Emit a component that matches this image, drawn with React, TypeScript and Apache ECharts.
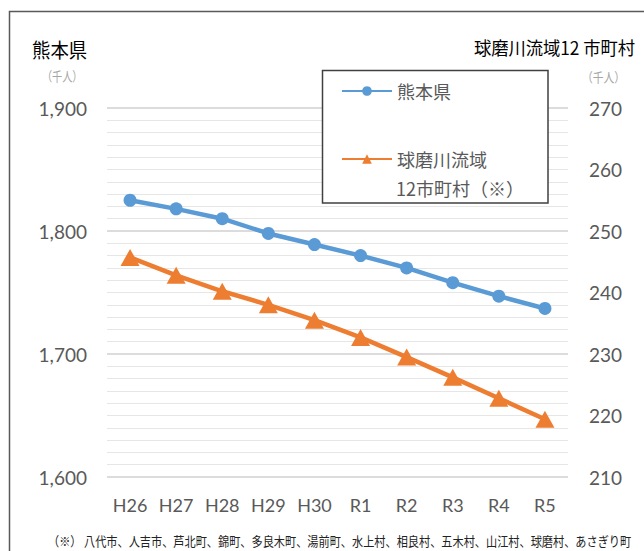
import React, { useEffect, useRef } from "react";
import * as echarts from "echarts";

const categories = ["H26", "H27", "H28", "H29", "H30", "R1", "R2", "R3", "R4", "R5"];
const kumamoto = [1825, 1818, 1810, 1798, 1789, 1780, 1770, 1758, 1747, 1737];
const kumagawa = [245.7, 242.8, 240.2, 238.0, 235.5, 232.7, 229.5, 226.2, 222.8, 219.4];
const nameKumamoto = "熊本県";
const nameKumagawa = "球磨川流域";
const nameKumagawa2 = "12市町村（※）";
const leftTitle = "熊本県";
const rightTitle = "球磨川流域12 市町村";
const unitText = "（千人）";
const footnote = "（※） 八代市、人吉市、芦北町、錦町、多良木町、湯前町、水上村、相良村、五木村、山江村、球磨村、あさぎり町";

const CJK = '"Noto Sans CJK JP", "Noto Sans", sans-serif';
const NUM = 'Lato, "Noto Sans", sans-serif';
const GRAY = "#595959";

export default function App() {
  const ref = useRef<HTMLDivElement>(null);
  useEffect(() => {
    if (!ref.current) return;
    const chart = echarts.init(ref.current, null, { renderer: "svg" });
    chart.setOption({
      animation: false,
      backgroundColor: "#ffffff",
      grid: { left: 107, right: 76, top: 108, bottom: 74 },
      legend: {
        orient: "vertical",
        left: 336,
        top: 77,
        itemWidth: 50,
        itemHeight: 12,
        itemGap: 50,
        z: 10,
        textStyle: { color: GRAY, fontSize: 18, fontFamily: CJK },
        data: [nameKumamoto, nameKumagawa],
      },
      xAxis: {
        type: "category",
        data: categories,
        boundaryGap: true,
        axisLine: { show: false },
        axisTick: { show: false },
        axisLabel: { color: GRAY, fontSize: 18, fontFamily: NUM, margin: 19 },
      },
      yAxis: [
        {
          type: "value",
          min: 1600,
          max: 1900,
          interval: 100,
          axisLine: { show: false },
          axisTick: { show: false },
          axisLabel: {
            color: GRAY,
            fontSize: 19,
            fontFamily: NUM,
            margin: 20,
            formatter: (v: number) => v.toLocaleString("en-US"),
          },
          splitLine: { show: true, lineStyle: { color: "#d0d0d0", width: 1.5 } },
          minorTick: { show: false, splitNumber: 10 },
          minorSplitLine: { show: true, lineStyle: { color: "#e6e6e6", width: 1.2 } },
        },
        {
          type: "value",
          min: 210,
          max: 270,
          interval: 10,
          position: "right",
          axisLine: { show: false },
          axisTick: { show: false },
          splitLine: { show: false },
          axisLabel: { color: GRAY, fontSize: 19, fontFamily: NUM, margin: 21 },
        },
      ],
      series: [
        {
          name: nameKumamoto,
          type: "line",
          yAxisIndex: 0,
          data: kumamoto,
          symbol: "circle",
          symbolSize: 13,
          lineStyle: { color: "#5B9BD5", width: 4.5 },
          itemStyle: { color: "#5B9BD5" },
        },
        {
          name: nameKumagawa,
          type: "line",
          yAxisIndex: 1,
          data: kumagawa,
          symbol: "triangle",
          symbolSize: [19, 17],
          lineStyle: { color: "#ED7D31", width: 4.5 },
          itemStyle: { color: "#ED7D31" },
        },
      ],
      graphic: [
        {
          type: "rect",
          z: -1,
          silent: true,
          shape: { x: 9.5, y: 11.5, width: 700, height: 600 },
          style: { fill: "none", stroke: "#595959", lineWidth: 1.5 },
        },
        {
          type: "rect",
          z: 5,
          shape: { x: 322.5, y: 70.5, width: 225.5, height: 132.5 },
          style: { fill: "#ffffff", stroke: "#404040", lineWidth: 1.5 },
        },
        {
          type: "text",
          z: 11,
          x: 396,
          y: 188,
          style: { text: nameKumagawa2, fill: GRAY, fontSize: 18, fontFamily: CJK, textAlign: "left", textVerticalAlign: "middle" },
        },
        {
          type: "text",
          x: 32,
          y: 50,
          scaleX: 0.92,
          style: { text: leftTitle, fill: "#000000", fontSize: 20, fontFamily: CJK, textAlign: "left", textVerticalAlign: "middle" },
        },
        {
          type: "text",
          x: 42,
          y: 75,
          scaleX: 0.78,
          style: { text: unitText, fill: "#a6a6a6", fontSize: 13, fontFamily: CJK, textAlign: "left", textVerticalAlign: "middle" },
        },
        {
          type: "text",
          x: 635,
          y: 47,
          scaleX: 0.96,
          style: { text: rightTitle, fill: "#000000", fontSize: 18, fontFamily: CJK, textAlign: "right", textVerticalAlign: "middle" },
        },
        {
          type: "text",
          x: 582,
          y: 76,
          scaleX: 0.83,
          style: { text: unitText, fill: "#a6a6a6", fontSize: 13, fontFamily: CJK, textAlign: "left", textVerticalAlign: "middle" },
        },
        {
          type: "text",
          x: 48,
          y: 540,
          scaleX: 0.86,
          style: { text: footnote, fill: "#222222", fontSize: 13, fontFamily: CJK, textAlign: "left", textVerticalAlign: "middle" },
        },
      ],
    });
    return () => chart.dispose();
  }, []);
  return <div ref={ref} style={{ position: "absolute", left: 0, top: 0, width: 644, height: 551 }} />;
}
